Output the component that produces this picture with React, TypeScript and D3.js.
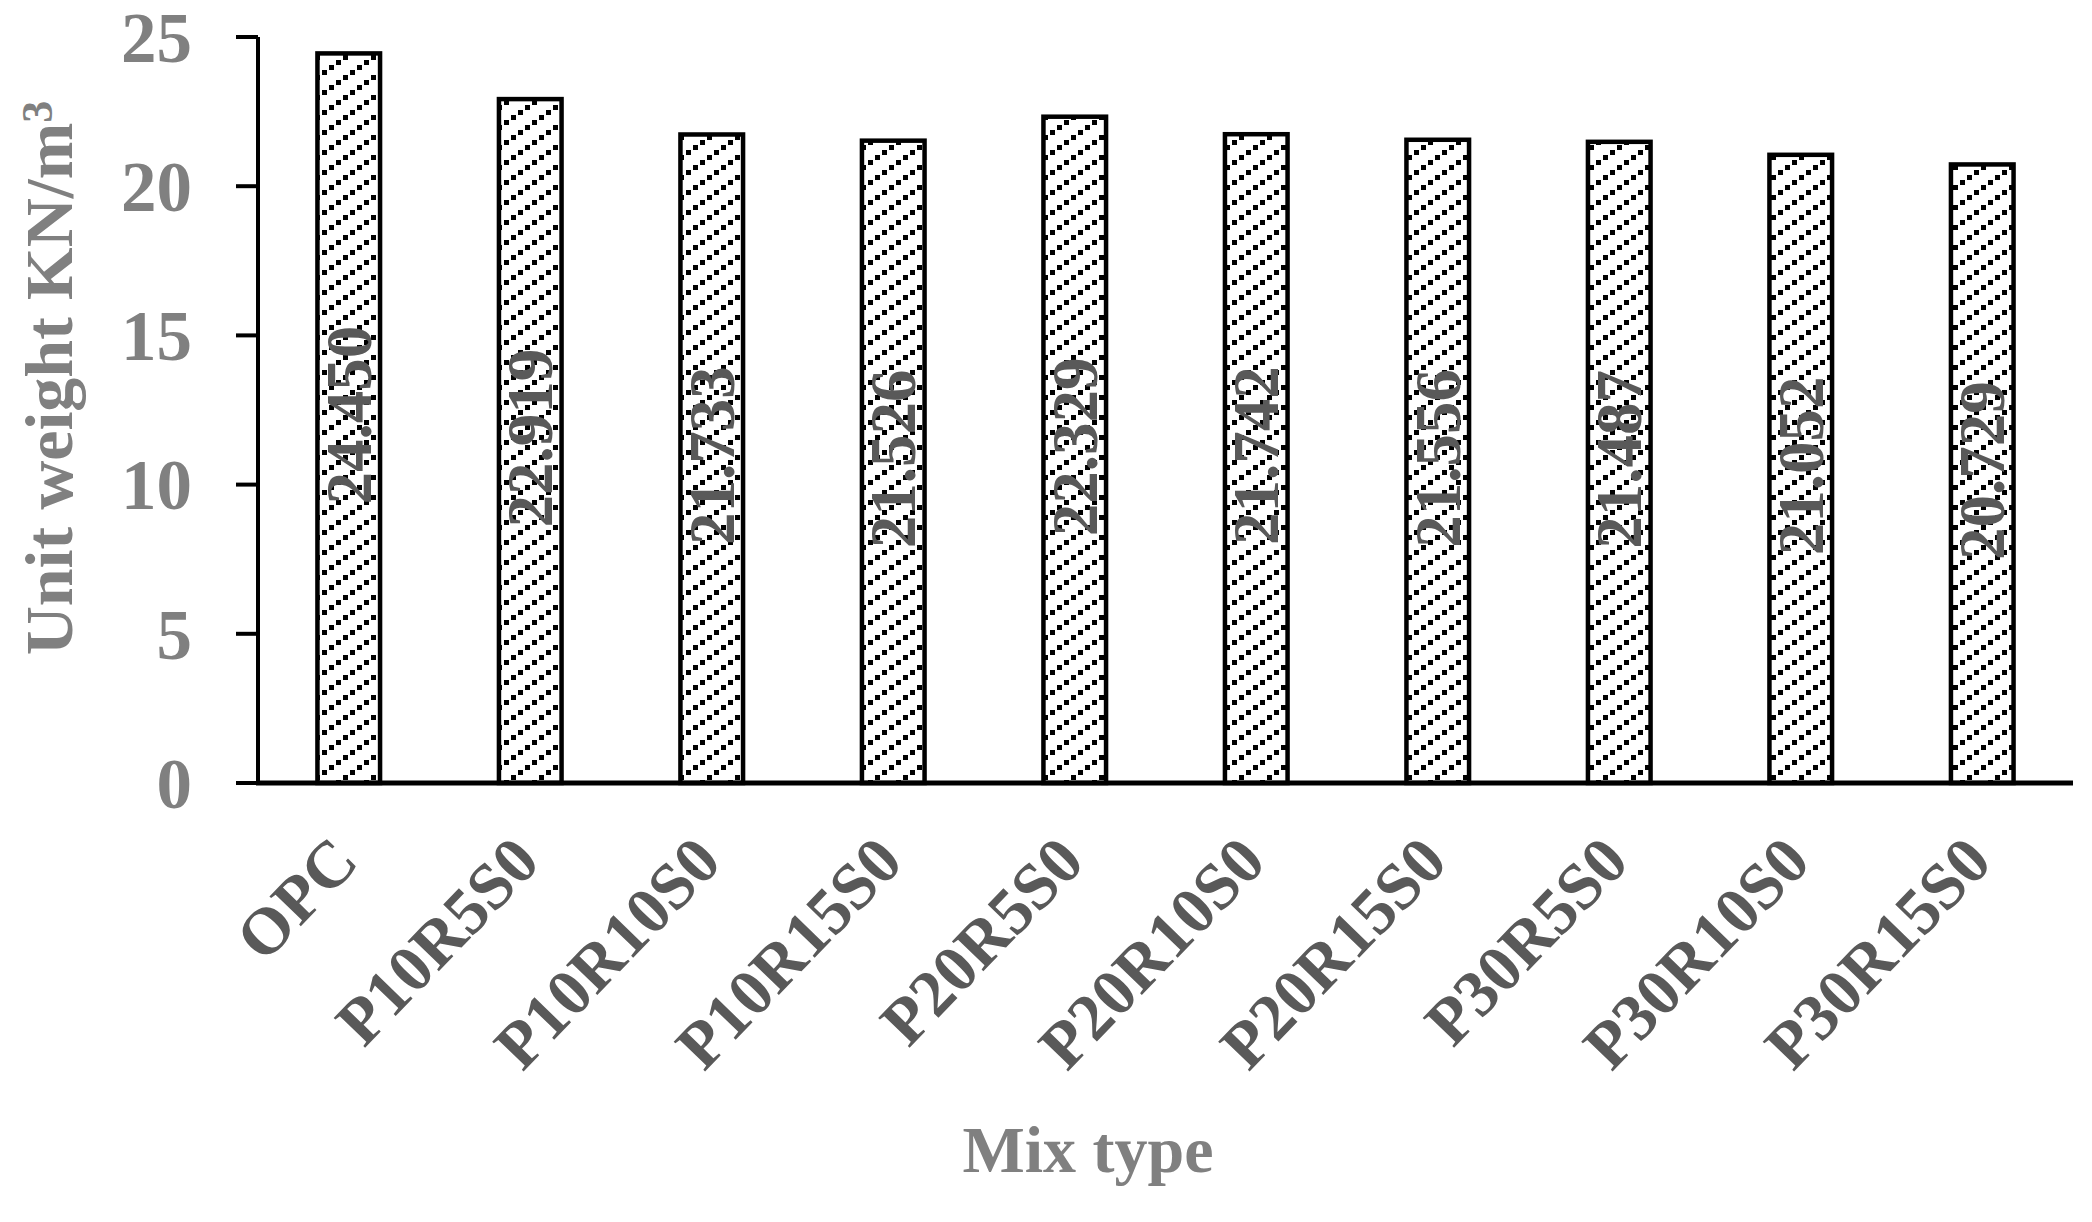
import React from 'react';
import * as d3 from 'd3';

const categories = ['OPC', 'P10R5S0', 'P10R10S0', 'P10R15S0', 'P20R5S0', 'P20R10S0', 'P20R15S0', 'P30R5S0', 'P30R10S0', 'P30R15S0'];
const values = [24.45, 22.919, 21.733, 21.526, 22.329, 21.742, 21.556, 21.487, 21.052, 20.729];
const yTicks = [0, 5, 10, 15, 20, 25];
const yTitle = 'Unit weight KN/m';
const yTitleSup = '3';
const xTitle = 'Mix type';

const W = 2092;
const H = 1222;
const FONT = '"Liberation Serif", "Times New Roman", serif';

export default function App() {
  const x = d3.scaleBand<string>().domain(categories).range([258, 2073]).paddingInner(0.655).paddingOuter(0.3275);
  const y = d3.scaleLinear().domain([0, 25]).range([783, 37]);
  const fmt = d3.format('.3f');
  return (
    <svg width={W} height={H} style={{ position: 'absolute', left: 0, top: 0, display: 'block', background: '#fff' }}>
      <defs>
        <pattern id="hatch" patternUnits="userSpaceOnUse" width={28} height={20}>
          <rect x={0} y={0} width={28} height={20} fill="#fff" />
          <g fill="#000" shapeRendering="crispEdges">
            <rect x={0} y={0} width={5} height={5} />
            <rect x={7} y={15} width={5} height={5} />
            <rect x={14} y={10} width={5} height={5} />
            <rect x={21} y={5} width={5} height={5} />
          </g>
        </pattern>
      </defs>
      {/* bars */}
      {categories.map((c, i) => (
        <rect key={c} x={x(c)} y={y(values[i])} width={x.bandwidth()} height={y(0) - y(values[i])}
          fill="url(#hatch)" stroke="#000" strokeWidth={4.5} />
      ))}
      {/* data labels */}
      {categories.map((c, i) => {
        const cx = (x(c) as number) + x.bandwidth() / 2;
        const cy = (y(values[i]) + y(0)) / 2 - 3;
        return (
          <text key={c} transform={`translate(${cx},${cy}) rotate(-90)`} textAnchor="middle" dy="0.34em"
            fontFamily={FONT} fontWeight="bold" fontSize={65} fill="#595959">{fmt(values[i])}</text>
        );
      })}
      {/* axes */}
      <line x1={258} x2={258} y1={y(25)} y2={y(0)} stroke="#000" strokeWidth={4} />
      {yTicks.map(t => (
        <g key={t}>
          <line x1={236} x2={258} y1={y(t)} y2={y(t)} stroke="#000" strokeWidth={4} />
          <text x={192} y={y(t)} dy="0.35em" textAnchor="end" fontFamily={FONT} fontWeight="bold" fontSize={71} fill="#808080">{t}</text>
        </g>
      ))}
      <line x1={256} x2={2073} y1={y(0)} y2={y(0)} stroke="#000" strokeWidth={5} />
      {/* x tick labels */}
      {categories.map(c => {
        const cx = (x(c) as number) + x.bandwidth() / 2 + 12;
        return (
          <text key={c} transform={`translate(${cx},864) rotate(-46)`} textAnchor="end"
            fontFamily={FONT} fontWeight="bold" fontSize={66} fill="#595959">{c}</text>
        );
      })}
      {/* axis titles */}
      <text transform="translate(72,378) rotate(-90)" textAnchor="middle" fontFamily={FONT} fontWeight="bold" fontSize={68} fill="#808080">
        {yTitle}<tspan dy="-0.45em" fontSize={44}>{yTitleSup}</tspan>
      </text>
      <text x={1088} y={1172} textAnchor="middle" fontFamily={FONT} fontWeight="bold" fontSize={66} fill="#808080">{xTitle}</text>
    </svg>
  );
}
